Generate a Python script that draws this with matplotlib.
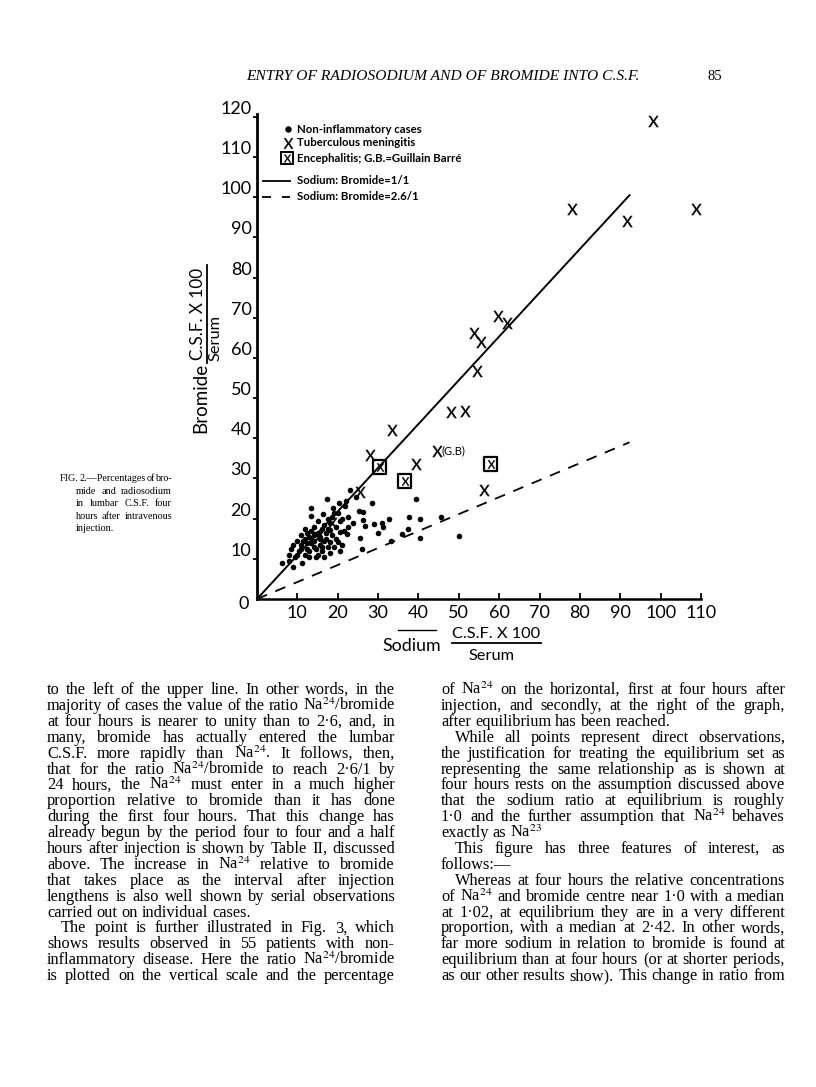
import matplotlib
matplotlib.use("Agg")
import matplotlib.pyplot as plt
from matplotlib.lines import Line2D
from matplotlib.textpath import TextPath
from matplotlib.font_manager import FontProperties
from matplotlib.path import Path

W, H = 816, 1087
SERIF = "Liberation Serif"
SANS = "Lato"

plt.rcParams["font.family"] = SANS
plt.rcParams["mathtext.fontset"] = "stix"

# ---- chart data ----
x_ticks = [10, 20, 30, 40, 50, 60, 70, 80, 90, 100, 110]
y_ticks = [10, 20, 30, 40, 50, 60, 70, 80, 90, 100, 110, 120]

# non-inflammatory cases (dots)
nonflam_x = [28.6, 39.5, 26.2, 26.2, 26.7, 29.0, 31.1, 32.8, 37.7, 40.3, 45.7, 30.0,
             35.8, 37.5, 25.5, 33.3, 40.5, 50.1, 25.9,
             23.0, 17.4, 20.4, 13.5, 18.9, 21.8, 25.3, 13.3, 16.4, 18.5, 20.1, 21.0,
             22.6, 23.8, 30.9, 18.1, 20.5, 22.2, 20.1, 18.1, 15.6, 24.5, 22.0,
             6.1, 9.0, 11.2, 8.0, 9.5, 10.5, 8.5, 11.0, 12.0, 12.5, 13.0, 13.5,
             12.0, 10.0, 11.0, 12.5, 14.0, 14.5, 15.0, 15.5, 16.0, 16.5, 14.0, 13.0,
             15.0, 16.0, 17.0, 17.5, 18.0, 16.5, 14.5, 19.0, 19.5, 17.0, 15.5, 13.0,
             11.5, 9.0, 10.0, 12.0, 14.0, 16.5, 18.0, 19.5, 20.5, 17.5, 19.0, 15.0,
             21.5, 22.5, 21.0, 20.5, 18.5, 13.5, 11.0, 8.0, 16.0, 14.0, 12.5, 17.5]
nonflam_y = [23.8, 24.8, 21.7, 19.7, 18.2, 18.7, 18.0, 19.8, 20.3, 19.8, 20.3, 16.5,
             16.3, 17.3, 15.2, 14.5, 15.3, 15.7, 12.4,
             27.1, 25.0, 24.0, 22.6, 22.6, 23.1, 21.9, 20.6, 21.1, 20.5, 21.3, 19.8,
             20.5, 18.8, 18.8, 17.2, 16.7, 16.3, 14.3, 14.3, 15.5, 25.5, 24.5,
             9.0, 8.0, 9.0, 11.0, 10.5, 12.0, 12.5, 13.5, 11.0, 12.5, 10.5, 14.0,
             15.0, 14.5, 16.0, 16.5, 16.0, 12.5, 11.0, 13.5, 12.0, 14.5, 13.0, 15.5,
             16.5, 17.5, 15.0, 13.0, 11.5, 10.5, 10.5, 13.0, 15.0, 16.5, 15.0, 12.0,
             14.5, 13.5, 11.0, 17.5, 18.0, 18.5, 19.0, 18.0, 19.5, 20.0, 21.5, 19.5,
             17.0, 18.0, 13.5, 12.0, 16.0, 17.0, 12.5, 9.5, 13.0, 14.5, 14.0, 17.5]

# tuberculous meningitis (X)
tb_x = [98.0, 78.0, 91.6, 108.7, 53.7, 55.4, 59.7, 61.9, 54.5, 48.0, 51.5,
        33.4, 28.0, 39.4, 56.2, 25.5, 15.0, 18.5]
tb_y = [118.9, 97.0, 94.0, 97.0, 66.2, 63.9, 70.4, 68.7, 56.7, 46.5, 46.8,
        42.0, 35.8, 33.6, 27.1, 26.6, 15.5, 19.0]

# encephalitis (boxed X)
enc_x = [30.4, 36.6, 57.9]
enc_y = [32.8, 29.4, 33.6]

# Guillain Barre case
gb_x = [44.6]
gb_y = [36.8]

# reference lines
line_1to1_x = [0, 92.3]
line_1to1_y = [0, 100.5]
line_26_x = [0, 92.3]
line_26_y = [0, 39.0]


def fx(px):
    return px / W


def fy(py):
    return 1 - py / H


# an upright sans "X" as a marker
tp = TextPath((0, 0), "X", size=10, prop=FontProperties(family=SANS))
ext = tp.get_extents()
verts = tp.vertices.copy()
verts[:, 0] -= (ext.x0 + ext.x1) / 2
verts[:, 1] -= (ext.y0 + ext.y1) / 2
XMARK = Path(verts, tp.codes)

fig = plt.figure(figsize=(W / 100, H / 100), dpi=100)
fig.patch.set_facecolor("white")

ax = fig.add_axes([fx(257), fy(599), (701 - 257) / W, (599 - 114) / H])
ax.set_xlim(0, 110)
ax.set_ylim(0, 120.7)
for s in ["top", "right"]:
    ax.spines[s].set_visible(False)
ax.spines["left"].set_linewidth(2.0)
ax.spines["bottom"].set_linewidth(1.8)

ax.plot(line_1to1_x, line_1to1_y, color="black", lw=1.4)
ax.plot(line_26_x, line_26_y, color="black", lw=1.3, dashes=(6, 5))

ax.scatter(nonflam_x, nonflam_y, s=16, c="black", linewidths=0, zorder=3)
ax.scatter(tb_x, tb_y, marker=XMARK, s=64, c="black", linewidths=0.3, zorder=4)
ax.scatter(enc_x, enc_y, marker="s", s=95, facecolors="none", edgecolors="black",
           linewidths=1.6, zorder=4)
ax.scatter(enc_x, enc_y, marker=XMARK, s=34, c="black", linewidths=0.3, zorder=5)
ax.scatter(gb_x, gb_y, marker=XMARK, s=64, c="black", linewidths=0.3, zorder=4)
ax.text(gb_x[0] + 1.2, gb_y[0], "(G.B)", fontsize=8, va="center", ha="left")

ax.set_xticks(x_ticks)
ax.set_xticklabels([str(v) for v in x_ticks])
ax.set_yticks(y_ticks)
ax.set_yticklabels([str(v) for v in y_ticks])
ax.tick_params(axis="x", direction="in", length=4, width=1.3, pad=4, labelsize=13)
ax.tick_params(axis="y", direction="out", length=3, width=1.3, pad=1, labelsize=13)
for lab in ax.get_yticklabels():
    lab.set_verticalalignment("bottom")
ax.text(-2, -1.3, "0", ha="right", va="center", fontsize=13)

# legend drawn by hand, as on the page
leg_kw = dict(fontsize=8.2, fontweight="bold", va="center", ha="left")
fig.add_artist(Line2D([fx(288)], [fy(129)], marker="o", ms=3.6, color="black",
                      transform=fig.transFigure))
fig.text(fx(297), fy(129), "Non-inflammatory cases", **leg_kw)
fig.add_artist(Line2D([fx(288)], [fy(143)], marker=XMARK, ms=7.5, color="black", mew=0.3,
                      transform=fig.transFigure))
fig.text(fx(297), fy(143), "Tuberculous meningitis", **leg_kw)
fig.add_artist(Line2D([fx(287)], [fy(158)], marker="s", ms=9, mfc="none", mec="black",
                      mew=1.4, transform=fig.transFigure))
fig.add_artist(Line2D([fx(287)], [fy(158)], marker=XMARK, ms=5.5, color="black", mew=0.3,
                      transform=fig.transFigure))
fig.text(fx(297), fy(158), "Encephalitis; G.B.=Guillain Barré", **leg_kw)
fig.add_artist(Line2D([fx(263), fx(290)], [fy(181), fy(181)], color="black", lw=1.3,
                      transform=fig.transFigure))
fig.text(fx(297), fy(180), "Sodium: Bromide=1/1", **leg_kw)
fig.add_artist(Line2D([fx(262), fx(290)], [fy(197), fy(197)], color="black", lw=1.3,
                      dashes=(5, 6), transform=fig.transFigure))
fig.text(fx(297), fy(196), "Sodium: Bromide=2.6/1", **leg_kw)

# axis titles with fractions
fig.text(fx(201), fy(398), "Bromide", rotation=90, ha="center", va="center", fontsize=13.5)
fig.text(fx(198), fy(314), "C.S.F. X 100", rotation=90, ha="center", va="center", fontsize=12.3)
fig.add_artist(Line2D([fx(207), fx(207)], [fy(265), fy(363)], color="black", lw=1.3,
                      transform=fig.transFigure))
fig.text(fx(215), fy(338), "Serum", rotation=90, ha="center", va="center", fontsize=11.8)

fig.text(fx(412), fy(646), "Sodium", ha="center", va="center", fontsize=12.8)
fig.text(fx(496), fy(634), "C.S.F. X 100", ha="center", va="center", fontsize=11.8)
fig.add_artist(Line2D([fx(452), fx(541)], [fy(643), fy(643)], color="black", lw=1.3,
                      transform=fig.transFigure))
fig.text(fx(492), fy(656), "Serum", ha="center", va="center", fontsize=11.8)
fig.add_artist(Line2D([fx(398), fx(436)], [fy(630), fy(630)], color="black", lw=1.0,
                      transform=fig.transFigure))

# ---- page text ----
r = fig.canvas.get_renderer()


def word_widths(words, size, **kw):
    arts = [fig.text(0, 0, w, fontsize=size, family=SERIF, va="baseline", ha="left", **kw)
            for w in words]
    return arts, [a.get_window_extent(r).width for a in arts]


def natural_width(text, size):
    arts, widths = word_widths(text.split(), size)
    for a in arts:
        a.remove()
    return sum(widths) + (len(widths) - 1) * size * 0.25 * 100 / 72


def fit_size(lines, width, indent=14):
    # largest size at which every justified line still fits
    best = []
    for txt, para_start, last in lines:
        if last:
            continue
        avail = width - (indent if para_start else 0)
        best.append(10 * avail / natural_width(txt, 10))
    return min(best)


def set_line(text, x0, x1, y, size, justify=True, **kw):
    arts, widths = word_widths(text.split(), size, **kw)
    if justify and len(arts) > 1:
        gap = (x1 - x0 - sum(widths)) / (len(arts) - 1)
    else:
        gap = size * 0.25 * 100 / 72
    x = x0
    for a, w in zip(arts, widths):
        a.set_position((fx(x), fy(y)))
        x += w + gap


def column(lines, x0, x1, y0, step, size, indent=14):
    for i, (txt, para_start, last) in enumerate(lines):
        xs = x0 + (indent if para_start else 0)
        set_line(txt, xs, x1, y0 + i * step, size, justify=not last)


# header
hdr = fig.text(0, 0, "ENTRY OF RADIOSODIUM AND OF BROMIDE INTO C.S.F.", family=SERIF,
               style="italic", fontsize=10, va="baseline")
wd = hdr.get_window_extent(r).width
hdr.set_fontsize(10 * (638 - 246) / wd)
hdr.set_position((fx(246), fy(80)))
fig.text(fx(707), fy(80), "85", family=SERIF, fontsize=10.5, va="baseline")

# caption (first line hangs to the left)
cap = [
    ("FIG. 2.—Percentages of bro-", False, False),
    ("mide and radiosodium", False, False),
    ("in lumbar C.S.F. four", False, False),
    ("hours after intravenous", False, False),
    ("injection.", False, True),
]
set_line(cap[0][0], 60, 172, 481, 7.3)
for i, (txt, _, last) in enumerate(cap[1:], start=1):
    set_line(txt, 76, 172, 481 + i * 12.6, 7.3, justify=not last)

left = [
    ("to the left of the upper line.  In other words, in the", False, False),
    ("majority of cases the value of the ratio Na$^{24}$/bromide", False, False),
    ("at four hours is nearer to unity than to 2·6, and, in", False, False),
    ("many, bromide has actually entered the lumbar", False, False),
    ("C.S.F. more rapidly than Na$^{24}$.  It follows, then,", False, False),
    ("that for the ratio Na$^{24}$/bromide to reach 2·6/1 by", False, False),
    ("24 hours, the Na$^{24}$ must enter in a much higher", False, False),
    ("proportion relative to bromide than it has done", False, False),
    ("during the first four hours.  That this change has", False, False),
    ("already begun by the period four to four and a half", False, False),
    ("hours after injection is shown by Table II, discussed", False, False),
    ("above.  The increase in Na$^{24}$ relative to bromide", False, False),
    ("that takes place as the interval after injection", False, False),
    ("lengthens is also well shown by serial observations", False, False),
    ("carried out on individual cases.", False, True),
    ("The point is further illustrated in Fig. 3, which", True, False),
    ("shows results observed in 55 patients with non-", False, False),
    ("inflammatory disease.  Here the ratio Na$^{24}$/bromide", False, False),
    ("is plotted on the vertical scale and the percentage", False, False),
]
right = [
    ("of Na$^{24}$ on the horizontal, first at four hours after", False, False),
    ("injection, and secondly, at the right of the graph,", False, False),
    ("after equilibrium has been reached.", False, True),
    ("While all points represent direct observations,", True, False),
    ("the justification for treating the equilibrium set as", False, False),
    ("representing the same relationship as is shown at", False, False),
    ("four hours rests on the assumption discussed above", False, False),
    ("that the sodium ratio at equilibrium is roughly", False, False),
    ("1·0 and the further assumption that Na$^{24}$ behaves", False, False),
    ("exactly as Na$^{23}$", False, True),
    ("This figure has three features of interest, as", True, False),
    ("follows:—", False, True),
    ("Whereas at four hours the relative concentrations", True, False),
    ("of Na$^{24}$ and bromide centre near 1·0 with a median", False, False),
    ("at 1·02, at equilibrium they are in a very different", False, False),
    ("proportion, with a median at 2·42.  In other words,", False, False),
    ("far more sodium in relation to bromide is found at", False, False),
    ("equilibrium than at four hours (or at shorter periods,", False, False),
    ("as our other results show).  This change in ratio from", False, False),
]
body_size = min(fit_size(left, 395 - 47), fit_size(right, 785 - 441))
column(left, 47, 395, 694, 15.9, body_size)
column(right, 441, 785, 694, 15.9, body_size)

fig.savefig("out.png", dpi=100, facecolor="white")
